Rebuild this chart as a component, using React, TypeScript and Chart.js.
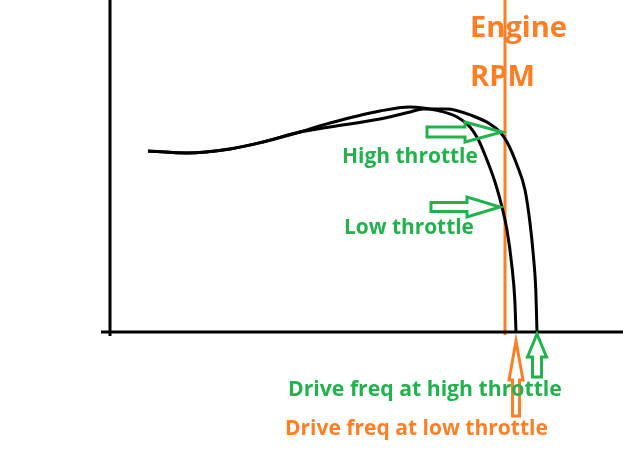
import React, { useEffect, useRef } from "react";
import { Chart, registerables } from "chart.js";

Chart.register(...registerables);

// Drive frequency (x) vs torque-like output (y), arbitrary units
const lowX = [38, 77, 120, 153, 190, 220, 270, 300, 313, 330, 347, 360, 368, 375, 385, 392, 397, 402, 404.8, 406];
const lowY = [181, 179, 183, 190, 200, 209, 221, 225, 224, 221, 215, 205, 193, 177, 150, 125, 102, 65, 32, 0];
const highX = [38, 77, 120, 153, 190, 220, 270, 300, 313, 337, 363, 380, 390, 397, 407, 415, 420, 423.5, 425.8, 427];
const highY = [181, 179, 183, 190, 200, 205, 213, 220, 223, 223, 216, 208, 200, 190, 167, 142, 109, 75, 42, 0];

const engineRpm = 395;
const engineLine = [-3, 332];
const highHit = 200;
const lowHit = 125;
const lowDrive = 406;
const highDrive = 427;

const ORANGE = "#FF7F27";
const GREEN = "#22B14C";
const FONT = '"Open Sans", "Noto Sans", sans-serif';

function toPts(xs: number[], ys: number[]) {
  return xs.map((x, i) => ({ x, y: ys[i] }));
}

function fitText(ctx: CanvasRenderingContext2D, text: string, x: number, baseline: number, width: number, color: string) {
  ctx.font = `bold 20px ${FONT}`;
  const w = ctx.measureText(text).width;
  const size = (20 * width) / w;
  ctx.font = `bold ${size}px ${FONT}`;
  ctx.fillStyle = color;
  ctx.textBaseline = "alphabetic";
  ctx.textAlign = "left";
  ctx.fillText(text, x, baseline);
}

function arrowRight(ctx: CanvasRenderingContext2D, x0: number, xb: number, x1: number, cy: number, sh: number, hh: number) {
  ctx.beginPath();
  ctx.moveTo(x0, cy - sh);
  ctx.lineTo(xb, cy - sh);
  ctx.lineTo(xb, cy - hh);
  ctx.lineTo(x1, cy);
  ctx.lineTo(xb, cy + hh);
  ctx.lineTo(xb, cy + sh);
  ctx.lineTo(x0, cy + sh);
  ctx.closePath();
  ctx.stroke();
}

function arrowUp(ctx: CanvasRenderingContext2D, cx: number, tip: number, yb: number, y0: number, sh: number, hh: number) {
  ctx.beginPath();
  ctx.moveTo(cx - sh, y0);
  ctx.lineTo(cx - sh, yb);
  ctx.lineTo(cx - hh, yb);
  ctx.lineTo(cx, tip);
  ctx.lineTo(cx + hh, yb);
  ctx.lineTo(cx + sh, yb);
  ctx.lineTo(cx + sh, y0);
  ctx.closePath();
  ctx.stroke();
}

const annotate = {
  id: "annotate",
  afterDatasetsDraw(chart: any) {
    const ctx = chart.ctx as CanvasRenderingContext2D;
    const xs = chart.scales.x;
    const ys = chart.scales.y;
    const x0 = xs.getPixelForValue(0);
    const y0 = ys.getPixelForValue(0);
    ctx.save();
    // axes
    ctx.strokeStyle = "#000";
    ctx.lineWidth = 3;
    ctx.beginPath();
    ctx.moveTo(x0 - 9, y0);
    ctx.lineTo(chart.width, y0);
    ctx.moveTo(x0, 0);
    ctx.lineTo(x0, y0 + 4);
    ctx.stroke();

    const ex = xs.getPixelForValue(engineRpm);
    // green horizontal arrows
    ctx.strokeStyle = GREEN;
    ctx.lineWidth = 3;
    ctx.lineJoin = "miter";
    const hy = ys.getPixelForValue(highHit);
    arrowRight(ctx, ex - 78, ex - 40, ex - 3, hy, 5, 10);
    const ly = ys.getPixelForValue(lowHit);
    arrowRight(ctx, ex - 74, ex - 38, ex - 5, ly, 4.5, 10);
    // up arrows
    const hx = xs.getPixelForValue(highDrive);
    arrowUp(ctx, hx, y0 + 2, y0 + 25, y0 + 45, 4.5, 9.5);
    ctx.strokeStyle = ORANGE;
    const lx = xs.getPixelForValue(lowDrive);
    arrowUp(ctx, lx, y0 + 9, y0 + 48, y0 + 84, 3.5, 7);

    // texts
    fitText(ctx, "Engine", ex - 35, 37, 97, ORANGE);
    fitText(ctx, "RPM", ex - 35, 86, 65, ORANGE);
    fitText(ctx, "High throttle", 342, 163, 136, GREEN);
    fitText(ctx, "Low throttle", 344, 234, 130, GREEN);
    fitText(ctx, "Drive freq at high throttle", 288, 396, 274, GREEN);
    fitText(ctx, "Drive freq at low throttle", 285, 435, 263, ORANGE);
    ctx.restore();
  },
};

export default function App() {
  const ref = useRef<HTMLCanvasElement>(null);
  useEffect(() => {
    if (!ref.current) return;
    const chart = new Chart(ref.current, {
      type: "line",
      data: {
        datasets: [
          {
            label: "Low throttle",
            data: toPts(lowX, lowY),
            borderColor: "#000",
            borderWidth: 3,
            pointRadius: 0,
            cubicInterpolationMode: "monotone",
            fill: false,
          },
          {
            label: "High throttle",
            data: toPts(highX, highY),
            borderColor: "#000",
            borderWidth: 3,
            pointRadius: 0,
            cubicInterpolationMode: "monotone",
            fill: false,
          },
          {
            label: "Engine RPM",
            data: engineLine.map((y) => ({ x: engineRpm, y })),
            borderColor: ORANGE,
            borderWidth: 3,
            pointRadius: 0,
            clip: false as any,
            fill: false,
          },
        ],
      },
      options: {
        animation: false,
        responsive: false,
        devicePixelRatio: 1,
        layout: { padding: { left: 110, right: 0, top: 0, bottom: 117 } },
        plugins: { legend: { display: false }, tooltip: { enabled: false } },
        scales: {
          x: { type: "linear", min: 0, max: 513, display: false },
          y: { type: "linear", min: 0, max: 332, display: false },
        },
      },
      plugins: [annotate],
    });
    return () => chart.destroy();
  }, []);
  return (
    <div style={{ position: "absolute", left: 0, top: 0, width: 623, height: 449, background: "#fff" }}>
      <canvas ref={ref} width={623} height={449} style={{ display: "block" }} />
    </div>
  );
}
